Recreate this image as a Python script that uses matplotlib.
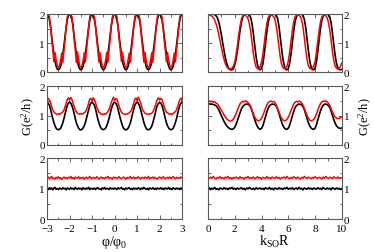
import matplotlib
matplotlib.use("Agg")
import matplotlib.pyplot as plt
import numpy as np
from matplotlib.ticker import MultipleLocator

plt.rcParams['font.family'] = ['Liberation Serif', 'DejaVu Serif']
plt.rcParams['mathtext.fontset'] = 'custom'
plt.rcParams['mathtext.rm'] = 'Liberation Serif'
plt.rcParams['mathtext.it'] = 'Liberation Serif'

# flux axis (left column) and k_SO R axis (right column)
phi = np.linspace(-3, 3, 121)
ksoR = np.linspace(0, 10, 101)

# ---- left column, G vs phi/phi0 ----
top_left_black = [
    2.0, 1.96, 1.82, 1.58, 1.25, 0.92, 0.62, 0.38, 0.2, 0.11, 0.08, 0.11, 0.2, 0.38, 0.62, 0.92, 1.25, 1.58, 1.82, 1.96,
    2.0, 1.96, 1.83, 1.58, 1.24, 0.92, 0.61, 0.37, 0.2, 0.11, 0.08, 0.11, 0.21, 0.38, 0.62, 0.93, 1.25, 1.57, 1.82, 1.96,
    2.0, 1.96, 1.82, 1.57, 1.25, 0.91, 0.62, 0.38, 0.2, 0.12, 0.08, 0.11, 0.2, 0.37, 0.62, 0.92, 1.26, 1.58, 1.82, 1.97,
    2.0, 1.96, 1.82, 1.58, 1.25, 0.92, 0.62, 0.38, 0.21, 0.11, 0.08, 0.11, 0.2, 0.38, 0.61, 0.92, 1.25, 1.58, 1.83, 1.96,
    2.0, 1.97, 1.82, 1.58, 1.25, 0.93, 0.62, 0.38, 0.2, 0.11, 0.08, 0.12, 0.2, 0.38, 0.62, 0.92, 1.24, 1.58, 1.82, 1.96,
    2.0, 1.96, 1.82, 1.58, 1.25, 0.92, 0.62, 0.37, 0.2, 0.11, 0.08, 0.11, 0.2, 0.38, 0.62, 0.92, 1.25, 1.58, 1.82, 1.96,
    2.0]
top_left_red = [
    2.0, 2.0, 1.92, 1.6, 1.15, 0.78, 0.36, 0.68, 0.42, 0.22, 0.16, 0.22, 0.42, 0.66, 0.34, 0.76, 1.15, 1.6, 1.92, 2.0,
    2.0, 1.99, 1.92, 1.62, 1.14, 0.77, 0.33, 0.7, 0.43, 0.21, 0.15, 0.23, 0.41, 0.67, 0.35, 0.77, 1.16, 1.6, 1.93, 2.0,
    2.0, 2.0, 1.91, 1.6, 1.16, 0.79, 0.35, 0.67, 0.42, 0.22, 0.16, 0.22, 0.42, 0.68, 0.33, 0.75, 1.14, 1.61, 1.92, 1.99,
    2.0, 2.0, 1.92, 1.59, 1.15, 0.78, 0.37, 0.69, 0.41, 0.23, 0.16, 0.21, 0.43, 0.66, 0.35, 0.78, 1.15, 1.6, 1.91, 2.0,
    2.0, 1.99, 1.93, 1.61, 1.15, 0.77, 0.34, 0.68, 0.42, 0.22, 0.15, 0.22, 0.42, 0.67, 0.34, 0.76, 1.16, 1.59, 1.92, 2.0,
    2.0, 2.0, 1.92, 1.6, 1.14, 0.78, 0.36, 0.68, 0.43, 0.22, 0.16, 0.22, 0.41, 0.66, 0.35, 0.77, 1.15, 1.6, 1.92, 2.0,
    2.0]
mid_left_black = [
    1.45, 1.42, 1.35, 1.22, 1.06, 0.9, 0.76, 0.65, 0.57, 0.53, 0.52, 0.53, 0.57, 0.65, 0.76, 0.9, 1.06, 1.22, 1.35, 1.42,
    1.46, 1.42, 1.34, 1.22, 1.07, 0.9, 0.75, 0.65, 0.57, 0.52, 0.51, 0.53, 0.58, 0.65, 0.76, 0.91, 1.06, 1.21, 1.35, 1.43,
    1.45, 1.41, 1.35, 1.23, 1.06, 0.89, 0.76, 0.64, 0.57, 0.53, 0.52, 0.54, 0.57, 0.66, 0.76, 0.9, 1.05, 1.22, 1.34, 1.42,
    1.45, 1.42, 1.35, 1.22, 1.06, 0.9, 0.77, 0.65, 0.56, 0.53, 0.51, 0.53, 0.57, 0.65, 0.75, 0.9, 1.07, 1.22, 1.36, 1.42,
    1.46, 1.42, 1.34, 1.21, 1.06, 0.91, 0.76, 0.65, 0.57, 0.52, 0.52, 0.53, 0.57, 0.64, 0.76, 0.9, 1.06, 1.23, 1.35, 1.41,
    1.45, 1.42, 1.35, 1.22, 1.07, 0.9, 0.76, 0.65, 0.58, 0.53, 0.52, 0.53, 0.57, 0.65, 0.76, 0.89, 1.06, 1.22, 1.35, 1.42,
    1.45]
mid_left_red = [
    1.5, 1.58, 1.53, 1.45, 1.3, 1.2, 1.12, 1.08, 1.05, 1.03, 1.06, 1.04, 1.07, 1.09, 1.13, 1.19, 1.31, 1.43, 1.55, 1.6,
    1.52, 1.61, 1.55, 1.42, 1.31, 1.19, 1.13, 1.07, 1.06, 1.04, 1.07, 1.05, 1.06, 1.1, 1.12, 1.21, 1.29, 1.45, 1.56, 1.58,
    1.49, 1.6, 1.54, 1.44, 1.29, 1.21, 1.11, 1.09, 1.04, 1.05, 1.03, 1.06, 1.05, 1.08, 1.14, 1.2, 1.32, 1.44, 1.54, 1.62,
    1.51, 1.57, 1.56, 1.43, 1.32, 1.2, 1.12, 1.07, 1.06, 1.03, 1.05, 1.04, 1.07, 1.09, 1.13, 1.19, 1.3, 1.42, 1.56, 1.59,
    1.5, 1.62, 1.53, 1.45, 1.3, 1.18, 1.13, 1.08, 1.05, 1.06, 1.04, 1.05, 1.06, 1.08, 1.12, 1.21, 1.31, 1.44, 1.55, 1.6,
    1.52, 1.58, 1.55, 1.43, 1.31, 1.2, 1.11, 1.09, 1.06, 1.04, 1.06, 1.03, 1.07, 1.1, 1.13, 1.2, 1.3, 1.45, 1.54, 1.59,
    1.5]
bot_left_black = [
    1.0, 0.97, 1.03, 0.99, 1.02, 0.96, 1.01, 1.04, 0.98, 1.0, 0.97, 1.02, 1.0, 0.98, 1.03, 0.99, 1.01, 0.96, 1.02, 1.0,
    0.98, 1.03, 0.99, 1.01, 0.97, 1.04, 1.0, 0.98, 1.02, 0.99, 1.01, 0.96, 1.03, 1.0, 0.98, 1.02, 0.99, 1.04, 0.97, 1.01,
    1.0, 0.98, 1.02, 0.97, 1.01, 1.03, 0.99, 1.0, 0.96, 1.02, 0.99, 1.04, 0.98, 1.01, 1.0, 0.97, 1.03, 0.99, 1.01, 0.98,
    1.02, 1.0, 0.97, 1.03, 0.99, 1.01, 1.04, 0.98, 1.0, 0.96, 1.02, 0.99, 1.01, 1.03, 0.98, 1.0, 0.97, 1.02, 0.99, 1.01,
    0.98, 1.03, 1.0, 0.97, 1.02, 0.99, 1.04, 1.0, 0.98, 1.01, 0.96, 1.02, 1.0, 0.99, 1.03, 0.98, 1.01, 0.97, 1.02, 1.0,
    0.99, 1.03, 0.98, 1.01, 0.97, 1.02, 1.0, 0.99, 1.04, 0.98, 1.01, 0.97, 1.03, 1.0, 0.98, 1.02, 0.99, 1.01, 0.97, 1.02,
    1.0]
bot_left_red = [
    1.35, 1.38, 1.32, 1.36, 1.4, 1.33, 1.35, 1.31, 1.37, 1.34, 1.39, 1.33, 1.36, 1.3, 1.35, 1.38, 1.34, 1.36, 1.32, 1.37,
    1.35, 1.4, 1.33, 1.36, 1.31, 1.38, 1.34, 1.35, 1.39, 1.32, 1.36, 1.34, 1.37, 1.31, 1.35, 1.38, 1.33, 1.36, 1.4, 1.34,
    1.32, 1.37, 1.35, 1.33, 1.39, 1.36, 1.31, 1.35, 1.38, 1.34, 1.36, 1.32, 1.37, 1.35, 1.4, 1.33, 1.36, 1.34, 1.31, 1.38,
    1.35, 1.37, 1.33, 1.36, 1.39, 1.34, 1.32, 1.36, 1.38, 1.35, 1.31, 1.37, 1.34, 1.36, 1.4, 1.33, 1.35, 1.38, 1.32, 1.36,
    1.34, 1.39, 1.35, 1.31, 1.37, 1.36, 1.33, 1.38, 1.35, 1.34, 1.4, 1.32, 1.36, 1.35, 1.38, 1.33, 1.37, 1.34, 1.31, 1.36,
    1.38, 1.35, 1.33, 1.39, 1.36, 1.32, 1.35, 1.37, 1.34, 1.38, 1.33, 1.36, 1.4, 1.35, 1.32, 1.37, 1.34, 1.36, 1.33, 1.38,
    1.35]

# ---- right column, G vs k_SO R ----
top_right_black = [
    2.0, 2.0, 2.0, 2.0, 2.0, 1.98, 1.95, 1.88, 1.75, 1.55, 1.3, 1.02, 0.75, 0.5, 0.3, 0.17, 0.1, 0.08, 0.08, 0.12,
    0.25, 0.45, 0.75, 1.1, 1.45, 1.72, 1.9, 1.97, 2.0, 2.0, 2.0, 1.97, 1.88, 1.65, 1.3, 0.9, 0.52, 0.25, 0.12, 0.08,
    0.12, 0.28, 0.6, 1.0, 1.4, 1.72, 1.9, 1.98, 2.0, 2.0, 2.0, 1.96, 1.85, 1.6, 1.22, 0.82, 0.45, 0.22, 0.1, 0.08,
    0.12, 0.3, 0.62, 1.0, 1.4, 1.72, 1.9, 1.98, 2.0, 2.0, 2.0, 1.96, 1.82, 1.55, 1.15, 0.75, 0.4, 0.18, 0.09, 0.08,
    0.14, 0.35, 0.7, 1.1, 1.5, 1.78, 1.93, 1.99, 2.0, 2.0, 1.98, 1.9, 1.7, 1.35, 0.95, 0.58, 0.3, 0.15, 0.09, 0.08,
    0.1]
top_right_red = [
    1.99, 1.98, 1.96, 1.93, 1.88, 1.8, 1.68, 1.52, 1.32, 1.1, 0.86, 0.63, 0.44, 0.29, 0.19, 0.13, 0.11, 0.11, 0.14, 0.2,
    0.35, 0.6, 0.92, 1.28, 1.6, 1.83, 1.94, 1.97, 1.96, 1.92, 1.84, 1.66, 1.38, 1.0, 0.62, 0.33, 0.17, 0.12, 0.12, 0.18,
    0.35, 0.62, 0.98, 1.35, 1.68, 1.88, 1.96, 1.97, 1.96, 1.92, 1.82, 1.6, 1.28, 0.88, 0.52, 0.27, 0.15, 0.12, 0.13, 0.2,
    0.38, 0.68, 1.05, 1.42, 1.72, 1.9, 1.96, 1.97, 1.96, 1.92, 1.8, 1.55, 1.18, 0.78, 0.44, 0.22, 0.13, 0.11, 0.13, 0.22,
    0.36, 0.68, 1.05, 1.42, 1.72, 1.9, 1.96, 1.97, 1.95, 1.88, 1.72, 1.45, 1.08, 0.7, 0.4, 0.21, 0.13, 0.11, 0.13, 0.2,
    0.32]
mid_right_black = [
    1.38, 1.4, 1.38, 1.39, 1.37, 1.36, 1.33, 1.28, 1.2, 1.1, 1.0, 0.9, 0.8, 0.72, 0.65, 0.6, 0.56, 0.54, 0.53, 0.55,
    0.6, 0.7, 0.82, 0.96, 1.1, 1.22, 1.3, 1.35, 1.38, 1.39, 1.38, 1.35, 1.28, 1.15, 1.0, 0.85, 0.72, 0.62, 0.56, 0.53,
    0.56, 0.65, 0.8, 0.96, 1.12, 1.25, 1.33, 1.37, 1.39, 1.38, 1.37, 1.32, 1.22, 1.08, 0.92, 0.78, 0.66, 0.58, 0.54, 0.53,
    0.57, 0.67, 0.82, 0.98, 1.13, 1.26, 1.33, 1.37, 1.39, 1.38, 1.36, 1.3, 1.2, 1.05, 0.9, 0.76, 0.65, 0.58, 0.54, 0.53,
    0.57, 0.68, 0.84, 1.0, 1.15, 1.27, 1.34, 1.38, 1.39, 1.37, 1.34, 1.27, 1.15, 1.0, 0.86, 0.74, 0.65, 0.6, 0.57, 0.56,
    0.58]
mid_right_red = [
    1.47, 1.5, 1.46, 1.49, 1.45, 1.47, 1.42, 1.4, 1.33, 1.26, 1.18, 1.1, 1.02, 0.95, 0.89, 0.85, 0.82, 0.81, 0.83, 0.88,
    0.96, 1.06, 1.18, 1.3, 1.4, 1.45, 1.48, 1.46, 1.5, 1.47, 1.44, 1.38, 1.28, 1.16, 1.04, 0.94, 0.87, 0.83, 0.82, 0.85,
    0.9, 1.0, 1.12, 1.25, 1.36, 1.44, 1.47, 1.49, 1.46, 1.48, 1.44, 1.36, 1.25, 1.12, 1.0, 0.91, 0.85, 0.82, 0.83, 0.87,
    0.94, 1.04, 1.16, 1.28, 1.38, 1.45, 1.48, 1.46, 1.49, 1.47, 1.43, 1.35, 1.24, 1.12, 1.0, 0.91, 0.85, 0.82, 0.83, 0.87,
    0.94, 1.05, 1.18, 1.3, 1.4, 1.46, 1.49, 1.47, 1.5, 1.46, 1.42, 1.34, 1.23, 1.12, 1.02, 0.95, 0.91, 0.9, 0.9, 0.92,
    0.94]
bot_right_black = [
    1.0, 1.03, 0.97, 1.01, 0.99, 1.04, 0.98, 1.0, 0.96, 1.02, 1.0, 0.98, 1.03, 0.99, 1.01, 0.97, 1.02, 1.0, 1.04, 0.98,
    1.01, 0.97, 1.02, 0.99, 1.0, 1.03, 0.98, 1.01, 0.96, 1.02, 0.99, 1.04, 1.0, 0.98, 1.01, 0.97, 1.03, 0.99, 1.0, 1.02,
    0.98, 1.01, 0.97, 1.03, 1.0, 0.99, 1.04, 0.98, 1.01, 0.96, 1.02, 1.0, 0.98, 1.03, 0.99, 1.01, 0.97, 1.02, 1.0, 1.04,
    0.98, 1.01, 0.99, 1.03, 0.97, 1.0, 1.02, 0.98, 1.04, 0.99, 1.01, 0.96, 1.02, 1.0, 0.98, 1.03, 0.99, 1.01, 0.97, 1.02,
    1.0, 0.98, 1.03, 0.99, 1.01, 0.97, 1.04, 1.0, 0.98, 1.02, 0.99, 1.01, 0.96, 1.03, 1.0, 0.98, 1.02, 0.99, 1.01, 0.97,
    1.0]
bot_right_red = [
    1.36, 1.33, 1.38, 1.34, 1.4, 1.35, 1.31, 1.37, 1.34, 1.39, 1.33, 1.36, 1.32, 1.38, 1.35, 1.4, 1.33, 1.36, 1.31, 1.37,
    1.34, 1.38, 1.35, 1.32, 1.39, 1.34, 1.36, 1.31, 1.37, 1.35, 1.4, 1.33, 1.36, 1.34, 1.38, 1.32, 1.35, 1.39, 1.34, 1.36,
    1.31, 1.37, 1.35, 1.33, 1.4, 1.34, 1.36, 1.32, 1.38, 1.35, 1.33, 1.39, 1.34, 1.37, 1.31, 1.36, 1.35, 1.38, 1.33, 1.4,
    1.35, 1.32, 1.37, 1.34, 1.39, 1.36, 1.33, 1.38, 1.35, 1.31, 1.37, 1.34, 1.4, 1.36, 1.33, 1.38, 1.35, 1.32, 1.37, 1.34,
    1.39, 1.35, 1.33, 1.37, 1.36, 1.31, 1.38, 1.34, 1.4, 1.35, 1.33, 1.37, 1.36, 1.32, 1.39, 1.35, 1.34, 1.38, 1.33, 1.36,
    1.35]

fig = plt.figure(figsize=(3.74, 2.53), dpi=100)

lefts = [0.126, 0.556]
widths = [0.361, 0.358]
rows = [(0.711, 0.229), (0.423, 0.233), (0.130, 0.241)]

left_data = [(top_left_black, top_left_red), (mid_left_black, mid_left_red), (bot_left_black, bot_left_red)]
right_data = [(top_right_black, top_right_red), (mid_right_black, mid_right_red), (bot_right_black, bot_right_red)]

for col in range(2):
    for r in range(3):
        ax = fig.add_axes([lefts[col], rows[r][0], widths[col], rows[r][1]])
        if col == 0:
            x = phi
            blk, red = left_data[r]
            ax.set_xlim(-3, 3)
            ax.xaxis.set_major_locator(MultipleLocator(1))
            ax.xaxis.set_minor_locator(MultipleLocator(0.5))
        else:
            x = ksoR
            blk, red = right_data[r]
            ax.set_xlim(0, 10)
            ax.xaxis.set_major_locator(MultipleLocator(2))
            ax.xaxis.set_minor_locator(MultipleLocator(1))
        ax.plot(x, blk, color='black', lw=1.2)
        ax.plot(x, red, color='red', lw=1.1)
        ax.set_ylim(0, 2)
        ax.yaxis.set_major_locator(MultipleLocator(1))
        ax.yaxis.set_minor_locator(MultipleLocator(0.5))
        ax.tick_params(which='both', direction='in', top=True, right=True, left=True, bottom=True,
                       labelsize=8, width=0.6, color='0.3')
        ax.tick_params(axis='y', pad=1.5)
        ax.tick_params(axis='x', pad=3.5)
        ax.tick_params(which='major', length=3)
        ax.tick_params(which='minor', length=1.8)
        for s in ax.spines.values():
            s.set_color('0.35')
            s.set_linewidth(0.8)
        if r < 2:
            ax.set_xticklabels([])
        if col == 1:
            ax.yaxis.tick_right()
            ax.tick_params(which='both', left=True, right=True, labelleft=False, labelright=True)
        if r == 1:
            if col == 0:
                ax.set_ylabel('G(e$^2$/h)', fontsize=9, labelpad=2)
            else:
                ax.yaxis.set_label_position('right')
                ax.set_ylabel('G(e$^2$/h)', fontsize=9, labelpad=5, rotation=90)
        if r == 2:
            if col == 0:
                ax.set_xlabel('\u03c6/\u03c6$_0$', fontsize=10, labelpad=0)
            else:
                ax.set_xlabel('k$_{SO}$R', fontsize=10, labelpad=0)

fig.savefig('out.png', dpi=100)
